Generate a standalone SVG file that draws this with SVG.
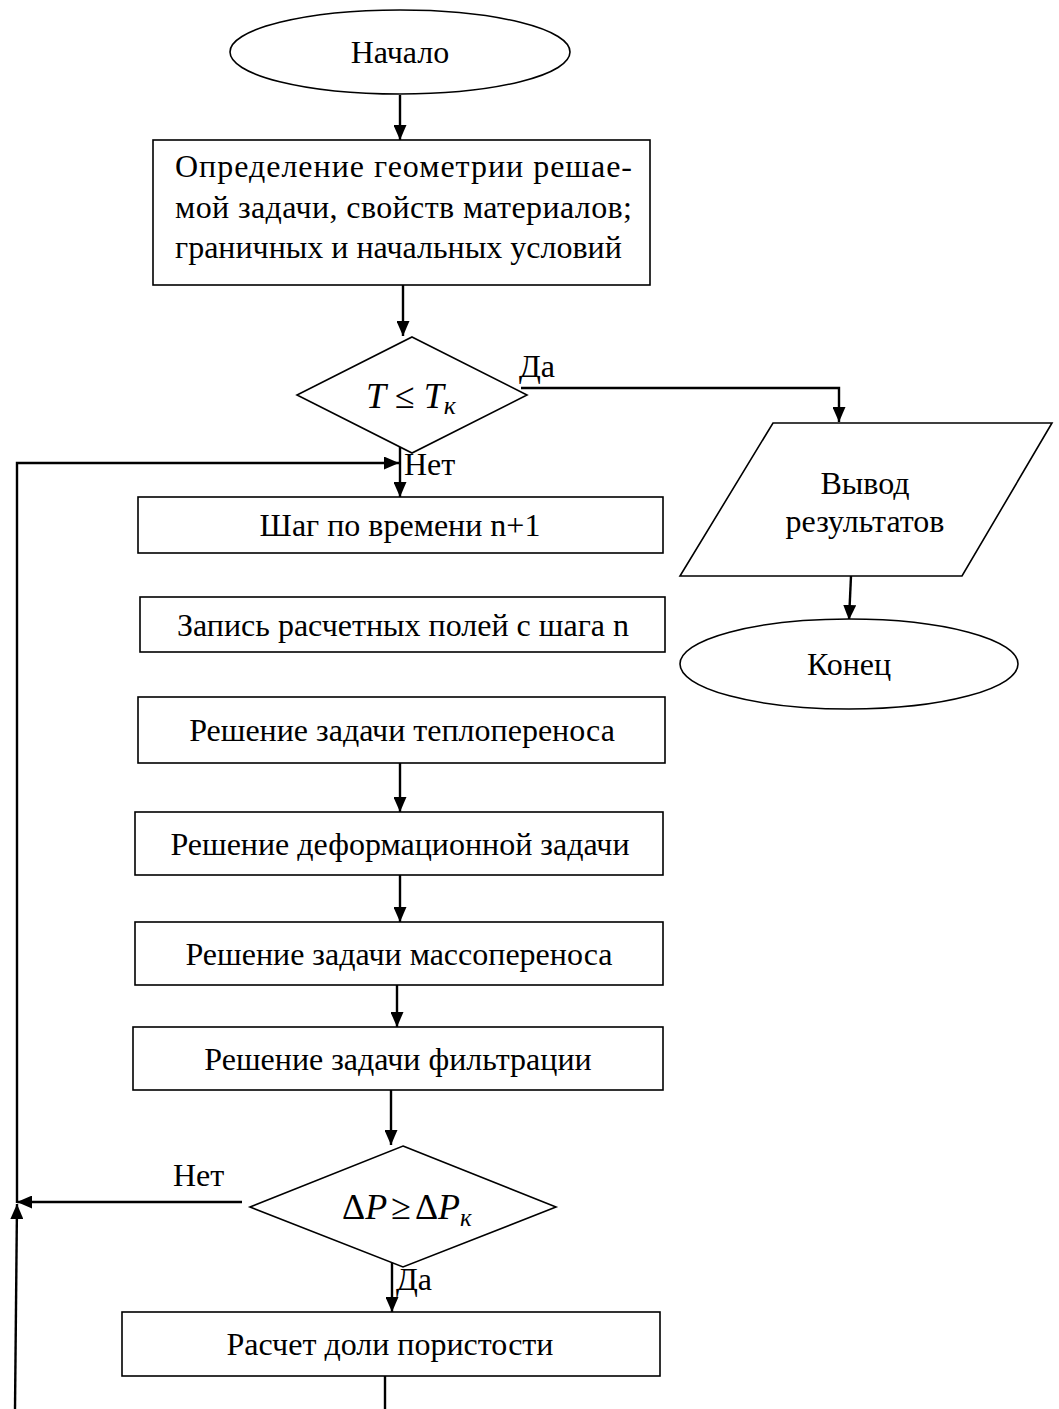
<svg xmlns="http://www.w3.org/2000/svg" width="1059" height="1409" viewBox="0 0 1059 1409">
<style>
.shape{fill:#fff;stroke:#000;stroke-width:1.6}
.conn{fill:none;stroke:#000;stroke-width:2.4}
.t{font-family:"Liberation Serif","Times New Roman",serif;font-size:32px;fill:#000}
.c{text-anchor:middle}
.m{font-family:"Liberation Serif","Times New Roman",serif;font-size:36px;fill:#000}
.i{font-style:italic}
</style>
<defs>
<marker id="ah" markerUnits="userSpaceOnUse" markerWidth="15" markerHeight="13" refX="15" refY="6.5" orient="auto">
<path d="M0,0 L15,6.5 L0,13 z" fill="#000"/>
</marker>
</defs>
<rect width="1059" height="1409" fill="#fff"/>
<g id="connectors">
<path class="conn" d="M400,95 L400,140" marker-end="url(#ah)"/>
<path class="conn" d="M403,285 L403,336" marker-end="url(#ah)"/>
<path class="conn" d="M521,388 L839,388 L839,422" marker-end="url(#ah)"/>
<path class="conn" d="M851,576 L849,620" marker-end="url(#ah)"/>
<path class="conn" d="M400,442 L400,497" marker-end="url(#ah)"/>
<path class="conn" d="M17,1203 L17,463 L399,463" marker-end="url(#ah)"/>
<path class="conn" d="M400,763 L400,812" marker-end="url(#ah)"/>
<path class="conn" d="M400,875 L400,922" marker-end="url(#ah)"/>
<path class="conn" d="M397,985 L397,1027" marker-end="url(#ah)"/>
<path class="conn" d="M391,1090 L391,1145" marker-end="url(#ah)"/>
<path class="conn" d="M242,1202 L17,1202" marker-end="url(#ah)"/>
<path class="conn" d="M15,1409 L17,1204" marker-end="url(#ah)"/>
<path class="conn" d="M392,1262 L392,1312" marker-end="url(#ah)"/>
<path class="conn" d="M385,1376 L385,1409"/>
<text class="t" x="519" y="377">Да</text>
<text class="t" x="404" y="475">Нет</text>
<text class="t" x="173" y="1186">Нет</text>
<text class="t" x="396" y="1290">Да</text>
</g>
<g id="start">
<ellipse class="shape" cx="400" cy="52" rx="170" ry="42"/>
<text class="t c" x="400" y="63">Начало</text>
</g>
<g id="init">
<rect class="shape" x="153" y="140" width="497" height="145"/>
<text class="t" x="175" y="177" textLength="457" lengthAdjust="spacing">Определение геометрии решае-</text>
<text class="t" x="175" y="218" textLength="457" lengthAdjust="spacing">мой задачи, свойств материалов;</text>
<text class="t" x="175" y="258">граничных и начальных условий</text>
</g>
<g id="cond1">
<polygon class="shape" points="412,337 527,395 412,453 297,395"/>
<text class="m" x="366" y="408"><tspan class="i">T</tspan> ≤ <tspan class="i">T</tspan><tspan class="i" font-size="26" dy="6">к</tspan></text>
</g>
<g id="output">
<polygon class="shape" points="773,423 1052,423 962,576 680,576"/>
<text class="t c" x="865" y="494">Вывод</text>
<text class="t c" x="865" y="532">результатов</text>
</g>
<g id="end">
<ellipse class="shape" cx="849" cy="664" rx="169" ry="45"/>
<text class="t c" x="849" y="675">Конец</text>
</g>
<g id="step">
<rect class="shape" x="138" y="497" width="525" height="56"/>
<text class="t c" x="400" y="536">Шаг по времени n+1</text>
</g>
<g id="save">
<rect class="shape" x="140" y="597" width="525" height="55"/>
<text class="t c" x="403" y="636">Запись расчетных полей с шага n</text>
</g>
<g id="heat">
<rect class="shape" x="138" y="697" width="527" height="66"/>
<text class="t c" x="402" y="741">Решение задачи теплопереноса</text>
</g>
<g id="deform">
<rect class="shape" x="135" y="812" width="528" height="63"/>
<text class="t c" x="400" y="855">Решение деформационной задачи</text>
</g>
<g id="mass">
<rect class="shape" x="135" y="922" width="528" height="63"/>
<text class="t c" x="399" y="965">Решение задачи массопереноса</text>
</g>
<g id="filter">
<rect class="shape" x="133" y="1027" width="530" height="63"/>
<text class="t c" x="398" y="1070">Решение задачи фильтрации</text>
</g>
<g id="cond2">
<polygon class="shape" points="403,1146 556,1207 403,1267 250,1207"/>
<text class="m" x="342" y="1219" font-size="33">Δ<tspan class="i">P</tspan><tspan dx="4">≥</tspan><tspan dx="4">Δ</tspan><tspan class="i">P</tspan><tspan class="i" font-size="25" dy="7">к</tspan></text>
</g>
<g id="porosity">
<rect class="shape" x="122" y="1312" width="538" height="64"/>
<text class="t c" x="390" y="1355">Расчет доли пористости</text>
</g>
</svg>
